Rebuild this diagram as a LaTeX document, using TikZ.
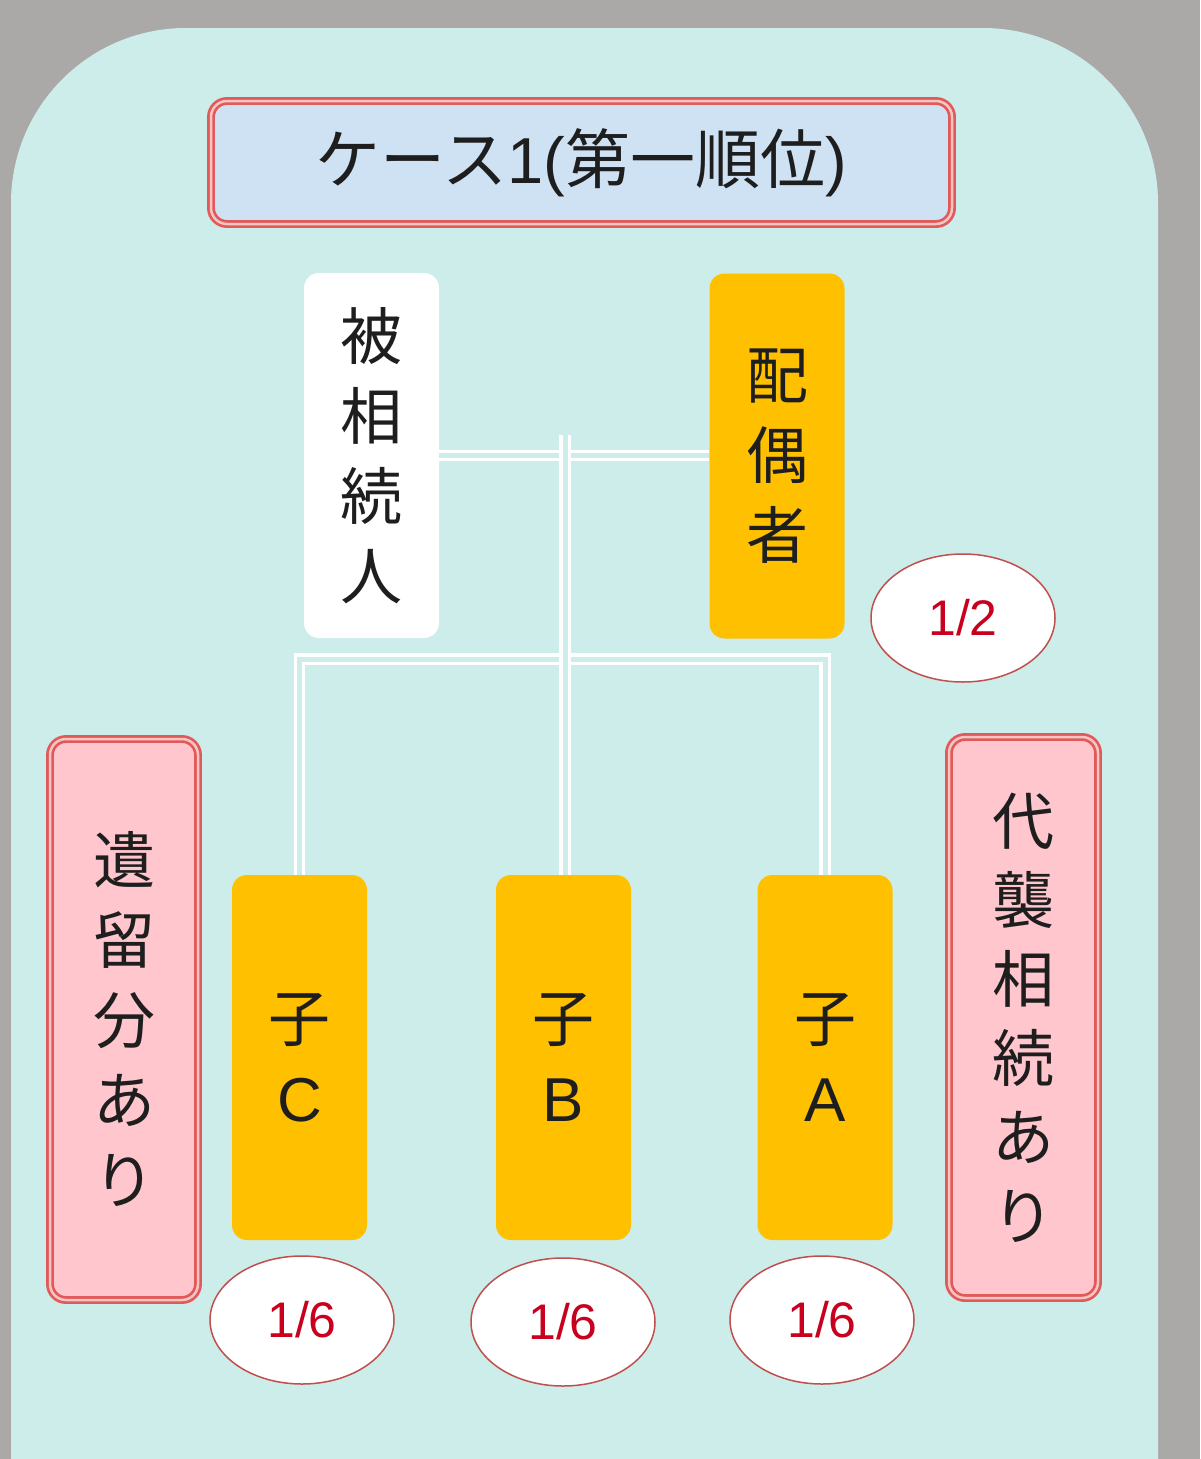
\documentclass[tikz,border=0pt]{standalone}
\usepackage{fontspec}
\setmainfont{Noto Sans CJK JP}
\newfontfamily\lat{Liberation Sans}
\usetikzlibrary{shapes.geometric}
\definecolor{bgc}{HTML}{ABA8A8}
\definecolor{panelc}{HTML}{CDEDEB}
\definecolor{titlec}{HTML}{CFE2F3}
\definecolor{redb}{HTML}{E05A5A}
\definecolor{gapc}{HTML}{F7C4C4}
\definecolor{pinkc}{HTML}{FFC6CD}
\definecolor{orangec}{HTML}{FFC000}
\definecolor{ellc}{HTML}{C0504D}
\definecolor{fracc}{HTML}{C8001E}
\definecolor{txtc}{HTML}{1E1E1E}
\tikzset{
  dblbox/.style={draw=redb, line width=2.7pt, double=gapc, double distance=2.5pt,
    rounded corners=16pt, inner sep=0pt, text=txtc},
  personbox/.style={rounded corners=15pt, inner sep=0pt, minimum width=135pt,
    minimum height=365pt, align=center, text=txtc,
    font=\fontsize{62}{80}\selectfont},
  conn/.style={draw=white, line width=3.2pt, double=panelc, double distance=5pt},
  frac/.style={ellipse, draw=ellc, line width=1.5pt, fill=white, inner sep=0pt,
    minimum width=184pt, minimum height=128pt, text=fracc,
    font=\lat\fontsize{50}{60}\selectfont},
}
\begin{document}
\begin{tikzpicture}[x=1pt,y=-1pt]
\useasboundingbox (0,0) rectangle (1200,1459);
\clip (0,0) rectangle (1200,1459);
\fill[bgc] (0,0) rectangle (1200,1459);
\fill[panelc, rounded corners=175pt] (11,1700) -- (11,28) -- (1158,28) -- (1158,1700) -- cycle;

% title
\node[dblbox, fill=titlec, minimum width=741pt, minimum height=123pt,
  font=\fontsize{65}{75}\selectfont] (title) at (581.5,162.5)
  {ケース{\lat 1(}第一順位{\lat )}};

% persons
\node[personbox, fill=white] (H) at (371.5,455.5) {被\\相\\続\\人};
\node[personbox, fill=orangec] (S) at (777,456) {配\\偶\\者};
\node[personbox, fill=orangec] (C) at (299.5,1057.5) {子\\{\lat C}};
\node[personbox, fill=orangec] (B) at (563.5,1057.5) {子\\{\lat B}};
\node[personbox, fill=orangec] (A) at (825,1057.5) {子\\{\lat A}};

% side notes
\node[dblbox, fill=pinkc, minimum width=148pt, minimum height=561pt, align=center,
  font=\fontsize{62}{80}\selectfont] (L) at (124,1019.5) {遺\\留\\分\\あ\\り};
\node[dblbox, fill=pinkc, minimum width=149pt, minimum height=561pt, align=center,
  font=\fontsize{62}{79}\selectfont] (R) at (1023.5,1017.5) {代\\襲\\相\\続\\あ\\り};

% connectors
\coordinate (top) at (565,435);
\coordinate (jL) at (565,659);
\draw[conn] (H.east) -- (H.east -| S.west);
\draw[conn] (C.north) |- (jL) -| (A.north);
\draw[conn] (top) -- (top |- B.north);

% shares
\node[frac] (fS) at (963,618) {1/2};
\node[frac] (fC) at (302,1320) {1/6};
\node[frac] (fB) at (563,1322) {1/6};
\node[frac] (fA) at (822,1320) {1/6};
\end{tikzpicture}
\end{document}
